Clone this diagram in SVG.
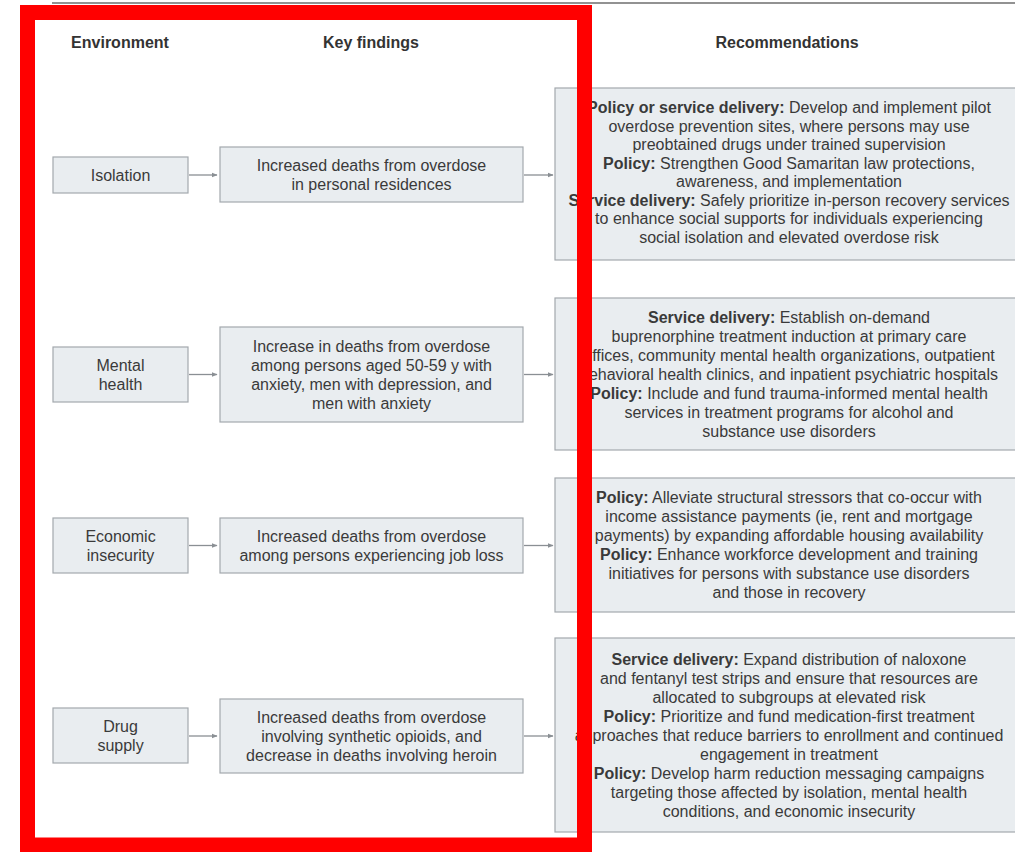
<svg xmlns="http://www.w3.org/2000/svg" width="1015" height="852" viewBox="0 0 1015 852">
<defs>
<style>
.box{fill:#e9edf0;stroke:#a3a8ad;stroke-width:1.2}
.t{font-family:"Liberation Sans",Arial,sans-serif;font-size:16px;fill:#3a3a3a;text-anchor:middle}
.h{font-family:"Liberation Sans",Arial,sans-serif;font-size:16px;font-weight:bold;fill:#333;text-anchor:middle}
.b{font-weight:bold}
.conn{stroke:#8a8f94;stroke-width:1.3;fill:none;marker-end:url(#ah)}
</style>
<marker id="ah" viewBox="0 0 10 10" refX="9" refY="5" markerWidth="6" markerHeight="6" markerUnits="userSpaceOnUse" orient="auto">
<path d="M0,1 L10,5 L0,9 Z" fill="#8a8f94"/>
</marker>
</defs>
<rect x="0" y="0" width="1015" height="852" fill="#ffffff"/>
<line x1="52" y1="3" x2="1015" y2="3" stroke="#6e6e6e" stroke-width="1.5"/>
<g id="headers">
<text class="h" x="120" y="48">Environment</text>
<text class="h" x="371" y="48">Key findings</text>
<text class="h" x="787" y="48">Recommendations</text>
</g>
<g id="connectors">
<line class="conn" x1="189" y1="175" x2="217" y2="175"/>
<line class="conn" x1="524" y1="175" x2="553" y2="175"/>
<line class="conn" x1="189" y1="374.5" x2="217" y2="374.5"/>
<line class="conn" x1="524" y1="374.5" x2="553" y2="374.5"/>
<line class="conn" x1="189" y1="545.5" x2="217" y2="545.5"/>
<line class="conn" x1="524" y1="545.5" x2="553" y2="545.5"/>
<line class="conn" x1="189" y1="736" x2="217" y2="736"/>
<line class="conn" x1="524" y1="736" x2="553" y2="736"/>
</g>
<g id="env-isolation">
<rect class="box" x="53" y="157" width="135" height="36"/>
<text class="t" x="120.5" y="180.5">Isolation</text>
</g>
<g id="kf-isolation">
<rect class="box" x="220" y="147" width="303" height="55"/>
<text class="t" x="371.5" y="171">Increased deaths from overdose</text>
<text class="t" x="371.5" y="190">in personal residences</text>
</g>
<g id="rec-isolation">
<rect class="box" x="555" y="88" width="465" height="172"/>
<text class="t" x="789" y="113"><tspan class="b">Policy or service delivery:</tspan> Develop and implement pilot</text>
<text class="t" x="789" y="131.5">overdose prevention sites, where persons may use</text>
<text class="t" x="789" y="150">preobtained drugs under trained supervision</text>
<text class="t" x="789" y="168.5"><tspan class="b">Policy:</tspan> Strengthen Good Samaritan law protections,</text>
<text class="t" x="789" y="187">awareness, and implementation</text>
<text class="t" x="789" y="205.5"><tspan class="b">Service delivery:</tspan> Safely prioritize in-person recovery services</text>
<text class="t" x="789" y="224">to enhance social supports for individuals experiencing</text>
<text class="t" x="789" y="242.5">social isolation and elevated overdose risk</text>
</g>
<g id="env-mental">
<rect class="box" x="53" y="347" width="135" height="55"/>
<text class="t" x="120.5" y="370.5">Mental</text>
<text class="t" x="120.5" y="389.5">health</text>
</g>
<g id="kf-mental">
<rect class="box" x="220" y="327" width="303" height="95"/>
<text class="t" x="371.5" y="351.5">Increase in deaths from overdose</text>
<text class="t" x="371.5" y="370.5">among persons aged 50-59 y with</text>
<text class="t" x="371.5" y="389.5">anxiety, men with depression, and</text>
<text class="t" x="371.5" y="408.5">men with anxiety</text>
</g>
<g id="rec-mental">
<rect class="box" x="555" y="298" width="465" height="152"/>
<text class="t" x="789" y="322.5"><tspan class="b">Service delivery:</tspan> Establish on-demand</text>
<text class="t" x="789" y="341.5">buprenorphine treatment induction at primary care</text>
<text class="t" x="789" y="360.5">offices, community mental health organizations, outpatient</text>
<text class="t" x="789" y="379.5">behavioral health clinics, and inpatient psychiatric hospitals</text>
<text class="t" x="789" y="398.5"><tspan class="b">Policy:</tspan> Include and fund trauma-informed mental health</text>
<text class="t" x="789" y="417.5">services in treatment programs for alcohol and</text>
<text class="t" x="789" y="436.5">substance use disorders</text>
</g>
<g id="env-economic">
<rect class="box" x="53" y="518" width="135" height="55"/>
<text class="t" x="120.5" y="541.5">Economic</text>
<text class="t" x="120.5" y="560.5">insecurity</text>
</g>
<g id="kf-economic">
<rect class="box" x="220" y="518" width="303" height="55"/>
<text class="t" x="371.5" y="541.5">Increased deaths from overdose</text>
<text class="t" x="371.5" y="560.5">among persons experiencing job loss</text>
</g>
<g id="rec-economic">
<rect class="box" x="555" y="478" width="465" height="134"/>
<text class="t" x="789" y="503"><tspan class="b">Policy:</tspan> Alleviate structural stressors that co-occur with</text>
<text class="t" x="789" y="522">income assistance payments (ie, rent and mortgage</text>
<text class="t" x="789" y="541">payments) by expanding affordable housing availability</text>
<text class="t" x="789" y="560"><tspan class="b">Policy:</tspan> Enhance workforce development and training</text>
<text class="t" x="789" y="579">initiatives for persons with substance use disorders</text>
<text class="t" x="789" y="598">and those in recovery</text>
</g>
<g id="env-drug">
<rect class="box" x="53" y="708" width="135" height="55"/>
<text class="t" x="120.5" y="731.5">Drug</text>
<text class="t" x="120.5" y="750.5">supply</text>
</g>
<g id="kf-drug">
<rect class="box" x="220" y="699" width="303" height="74"/>
<text class="t" x="371.5" y="722.5">Increased deaths from overdose</text>
<text class="t" x="371.5" y="741.5">involving synthetic opioids, and</text>
<text class="t" x="371.5" y="760.5">decrease in deaths involving heroin</text>
</g>
<g id="rec-drug">
<rect class="box" x="555" y="638" width="465" height="194"/>
<text class="t" x="789" y="664.5"><tspan class="b">Service delivery:</tspan> Expand distribution of naloxone</text>
<text class="t" x="789" y="683.5">and fentanyl test strips and ensure that resources are</text>
<text class="t" x="789" y="702.5">allocated to subgroups at elevated risk</text>
<text class="t" x="789" y="721.5"><tspan class="b">Policy:</tspan> Prioritize and fund medication-first treatment</text>
<text class="t" x="789" y="740.5">approaches that reduce barriers to enrollment and continued</text>
<text class="t" x="789" y="759.5">engagement in treatment</text>
<text class="t" x="789" y="778.5"><tspan class="b">Policy:</tspan> Develop harm reduction messaging campaigns</text>
<text class="t" x="789" y="797.5">targeting those affected by isolation, mental health</text>
<text class="t" x="789" y="816.5">conditions, and economic insecurity</text>
</g>
<rect id="highlight" x="27.5" y="12.5" width="557" height="832.5" fill="none" stroke="#ff0000" stroke-width="15"/>
</svg>
